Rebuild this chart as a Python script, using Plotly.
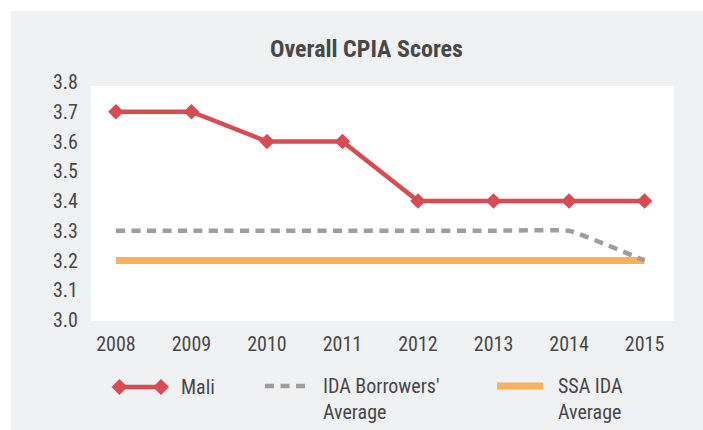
import plotly.graph_objects as go

years = [2008, 2009, 2010, 2011, 2012, 2013, 2014, 2015]
mali = [3.7, 3.7, 3.6, 3.6, 3.4, 3.4, 3.4, 3.4]
ida_borrowers = [3.3, 3.3, 3.3, 3.3, 3.3, 3.3, 3.3, 3.2]
ssa_ida = [3.2, 3.2, 3.2, 3.2, 3.2, 3.2, 3.2, 3.2]
y_ticks = [3.0, 3.1, 3.2, 3.3, 3.4, 3.5, 3.6, 3.7, 3.8]

RED = "#D84B53"
GRAY = "#A19D9B"
ORANGE = "#F9B15F"
TEXT = "#48484A"
BG = "#F0F1F3"
FONT = "Liberation Sans Narrow, Arial Narrow, Roboto Condensed, Roboto, sans-serif"

W, H = 703, 430
L, R, T, B = 91, 674, 82, 320  # plot area in pixels

def xp(px):
    return (px - L) / (R - L)

def yp(py):
    return (B - py) / (B - T)

fig = go.Figure()
fig.add_trace(go.Scatter(x=years, y=ssa_ida, mode="lines", name="SSA IDA Average",
                         line=dict(color=ORANGE, width=7), showlegend=False))
fig.add_trace(go.Scatter(x=years, y=ida_borrowers, mode="lines", name="IDA Borrowers' Average",
                         line=dict(color=GRAY, width=4.5, dash="9px,6.5px", shape="spline", smoothing=0.3),
                         showlegend=False))
fig.add_trace(go.Scatter(x=years, y=mali, mode="lines+markers", name="Mali",
                         line=dict(color=RED, width=4.5),
                         marker=dict(symbol="diamond", size=12, color=RED),
                         showlegend=False))

shapes = []
# gray panel background
shapes.append(dict(type="rect", xref="paper", yref="paper", x0=xp(11), x1=xp(740), y0=yp(460), y1=yp(11),
                   fillcolor=BG, line=dict(width=0), layer="below"))
# white plot panel
shapes.append(dict(type="rect", xref="paper", yref="paper", x0=xp(91), x1=xp(674), y0=yp(321), y1=yp(86),
                   fillcolor="white", line=dict(width=0), layer="below"))

# manual legend
ly = 387
shapes.append(dict(type="line", xref="paper", yref="paper", x0=xp(119), x1=xp(161), y0=yp(ly), y1=yp(ly),
                   line=dict(color=RED, width=4.5)))
for cx in (119.5, 161):
    shapes.append(dict(type="path", xref="paper", yref="paper", xsizemode="pixel", ysizemode="pixel",
                       xanchor=xp(cx), yanchor=yp(ly), path="M -8,0 L 0,8 L 8,0 L 0,-8 Z",
                       fillcolor=RED, line=dict(width=0)))
shapes.append(dict(type="line", xref="paper", yref="paper", x0=xp(265), x1=xp(307), y0=yp(386), y1=yp(386),
                   line=dict(color=GRAY, width=4.5, dash="9px,6.5px")))
shapes.append(dict(type="line", xref="paper", yref="paper", x0=xp(497), x1=xp(543), y0=yp(386), y1=yp(386),
                   line=dict(color=ORANGE, width=7)))

annotations = [
    dict(text="Mali", x=xp(179), y=yp(387), xref="paper", yref="paper", xanchor="left", yanchor="middle",
         showarrow=False, font=dict(family=FONT, size=20, color=TEXT)),
    dict(text="IDA Borrowers'<br>Average", x=xp(321), y=yp(399), xref="paper", yref="paper", xanchor="left",
         yanchor="middle", align="left", showarrow=False, font=dict(family=FONT, size=20, color=TEXT)),
    dict(text="SSA IDA<br>Average", x=xp(556), y=yp(399), xref="paper", yref="paper", xanchor="left",
         yanchor="middle", align="left", showarrow=False, font=dict(family=FONT, size=20, color=TEXT)),
]

fig.update_layout(
    width=W, height=H,
    margin=dict(l=L, r=W - R, t=T, b=H - B, pad=0),
    paper_bgcolor="white",
    plot_bgcolor="rgba(0,0,0,0)",
    hovermode=False,
    title=dict(text="<b>Overall CPIA Scores</b>", x=xp(366.5), xref="paper", xanchor="center",
               y=1 - 49 / H, yanchor="middle", font=dict(family=FONT, size=24, color=TEXT)),
    shapes=shapes,
    annotations=annotations,
    xaxis=dict(range=[2007.67, 2015.39], tickvals=years, ticktext=[str(y) for y in years],
               showgrid=False, zeroline=False, showline=False, ticks="",
               tickfont=dict(family=FONT, size=20, color=TEXT), ticklabelstandoff=10),
    yaxis=dict(range=[3.0, 3.8], tickvals=y_ticks, ticktext=[f"{v:.1f}" for v in y_ticks],
               showgrid=False, zeroline=False, showline=False, ticks="",
               tickfont=dict(family=FONT, size=20, color=TEXT), ticklabelstandoff=12),
    showlegend=False,
)

fig.write_html(
    "out.html",
    config={"displayModeBar": False},
    post_script="document.body.style.margin='0';document.documentElement.style.overflow='hidden';",
)
